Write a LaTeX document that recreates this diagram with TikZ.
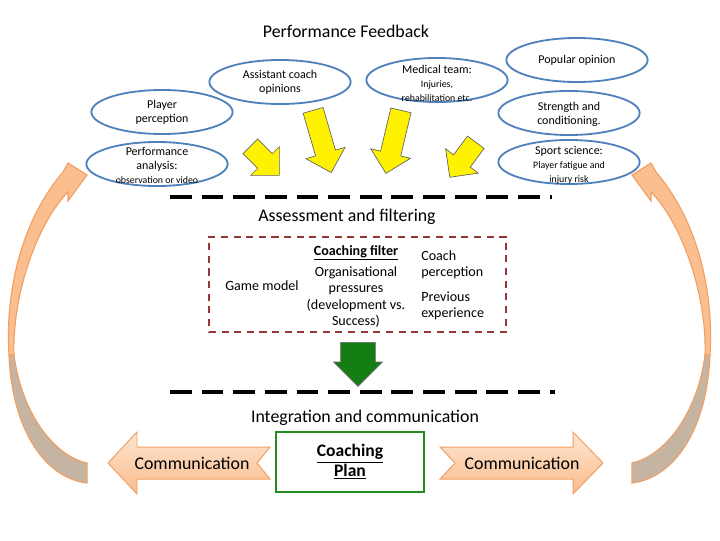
\documentclass[tikz,border=0pt]{standalone}
\usepackage{fontspec}
\setmainfont{Carlito}
\usetikzlibrary{shapes.geometric,shapes.arrows}

\definecolor{bubbleblue}{RGB}{79,129,189}
\definecolor{filterred}{RGB}{149,55,53}
\definecolor{plangreen}{RGB}{34,139,34}
\definecolor{arrowgreen}{RGB}{20,125,20}
\definecolor{commlight}{RGB}{253,230,210}
\definecolor{commdark}{RGB}{250,187,138}
\definecolor{commline}{RGB}{240,160,100}
\definecolor{loopfront}{RGB}{250,190,143}
\definecolor{loopgrey}{RGB}{198,180,163}

\newcommand\smalltxt[1]{{\fontsize{7}{8.5}\selectfont #1}}

\tikzset{
  bubble/.style={ellipse, draw=bubbleblue, line width=1.3pt, fill=white,
    minimum width=3.53cm, minimum height=1.1cm, inner sep=0pt},
  bubbletext/.style={align=center, inner sep=0pt, font=\fontsize{8.5}{10}\selectfont},
  heading/.style={inner sep=0pt, font=\fontsize{12.7}{15}\selectfont},
  filtertext/.style={align=center, inner sep=0pt, font=\fontsize{10}{11.7}\selectfont},
  feedarrow/.style={single arrow, fill=yellow, draw=black!60, line width=0.5pt,
    inner xsep=0pt, inner ysep=0.25cm, minimum width=1cm, single arrow head extend=0.25cm,
    single arrow tip angle=90, anchor=tail},
  divider/.style={line width=2.8pt, dash pattern=on 15.5pt off 7pt},
  commarrow/.style={draw=commline, line width=0.7pt, top color=commlight, bottom color=commdark},
  feedbackloop/.pic={
    % back face, lower part
    \filldraw[fill=loopgrey, draw=commline, line width=0.8pt]
      (9,355) .. controls (12,430) and (45,478) .. (87,483) -- (87,463)
      .. controls (55,456) and (22,415) .. (14,355) -- cycle;
    % front face with head
    \filldraw[fill=loopfront, draw=commline, line width=0.8pt]
      (9,355) .. controls (5,290) and (22,220) .. (63,172) -- (68,163) -- (87,175)
      -- (68,201) -- (68,192) .. controls (40,220) and (12,290) .. (14,355) -- cycle;
  }
}

\begin{document}
\begin{tikzpicture}[x=0.025cm, y=-0.025cm]
    \fill[white] (0,0) rectangle (720,540);
    \useasboundingbox (0,0) rectangle (720,540);

    \node[heading] (title) at (346,31) {Performance Feedback};

    % feedback sources
    \node[bubble] (player) at (162,112) {};
    \node[bubbletext] (player-t) at (player) {Player\\perception};
    \node[bubble] (perf) at (157,164) {};
    \node[bubbletext] (perf-t) at (157,165) {Performance\\analysis:\\\smalltxt{observation or video}};
    \node[bubble] (assist) at (280,82) {};
    \node[bubbletext] (assist-t) at (assist) {Assistant coach\\opinions};
    \node[bubble] (medical) at (437,80) {};
    \node[bubbletext] (medical-t) at (437,83) {Medical team:\\\smalltxt{Injuries,}\\\smalltxt{rehabilitation etc.}};
    \node[bubble] (popular) at (577,60) {};
    \node[bubbletext] (popular-t) at (popular) {Popular opinion};
    \node[bubble] (strength) at (569,113) {};
    \node[bubbletext] (strength-t) at (569,114) {Strength and\\conditioning.};
    \node[bubble] (sport) at (569,162) {};
    \node[bubbletext] (sport-t) at (569,165) {Sport science:\\\smalltxt{Player fatigue and}\\\smalltxt{injury risk}};

    \node[feedarrow, minimum height=1.03cm, rotate=-45] (ya) at (250,146) {};
    \node[feedarrow, minimum height=1.62cm, rotate=-73.8] (yb) at (313,110) {};
    \node[feedarrow, minimum height=1.62cm, rotate=-103.4] (yc) at (401,110) {};
    \node[feedarrow, minimum height=1.09cm, rotate=-126.6] (yd) at (476,142) {};

    \draw[divider] (170,197) -- (552,197);

    % assessment
    \node[heading] (assess) at (347,217) {Assessment and filtering};
    \node[draw=filterred, line width=1.3pt, dash pattern=on 5pt off 4pt,
          minimum width=7.43cm, minimum height=2.38cm] (filter) at (357.5,284.5) {};
    \node[filtertext, font=\bfseries\fontsize{10}{11.7}\selectfont] (filter-t) at (356,253) {\underline{Coaching filter}};
    \node[filtertext] (org) at (356,297) {Organisational\\pressures\\(development vs.\\Success)};
    \node[filtertext] (game) at (262,286) {Game model};
    \node[filtertext, align=left, anchor=west] (coachp) at (421,265) {Coach\\perception};
    \node[filtertext, align=left, anchor=west] (prev) at (421,306) {Previous\\experience};

    \node[single arrow, fill=arrowgreen, draw=black!60, line width=0.5pt,
          inner xsep=0pt, inner ysep=0.425cm, minimum width=1.2cm,
          single arrow head extend=0.175cm, single arrow tip angle=90,
          minimum height=1.1cm, rotate=-90, anchor=tail] (down) at (358,342) {};

    \draw[divider] (170,392) -- (555,392);

    % integration
    \node[heading] (integ) at (365,418) {Integration and communication};
    \node[draw=plangreen, line width=1.4pt, minimum width=3.7cm, minimum height=1.5cm,
          align=center, font=\bfseries\fontsize{12.5}{14}\selectfont] (plan) at (350,462)
          {\underline{Coaching}\\\underline{Plan}};

    \draw[commarrow] (108,463) -- (137,432) -- (137,447) -- (270,447) -- (257,463)
          -- (270,479) -- (137,479) -- (137,494) -- cycle;
    \node[heading] (commleft) at (192,463) {Communication};
    \draw[commarrow] (603,463) -- (573,432) -- (573,447) -- (440,447) -- (455,463)
          -- (440,479) -- (573,479) -- (573,494) -- cycle;
    \node[heading] (commright) at (522,463) {Communication};

    % loops back to the sources
    \pic (loopleft) at (0,0) {feedbackloop};
    \pic[xscale=-1] (loopright) at (719,0) {feedbackloop};
\end{tikzpicture}
\end{document}
